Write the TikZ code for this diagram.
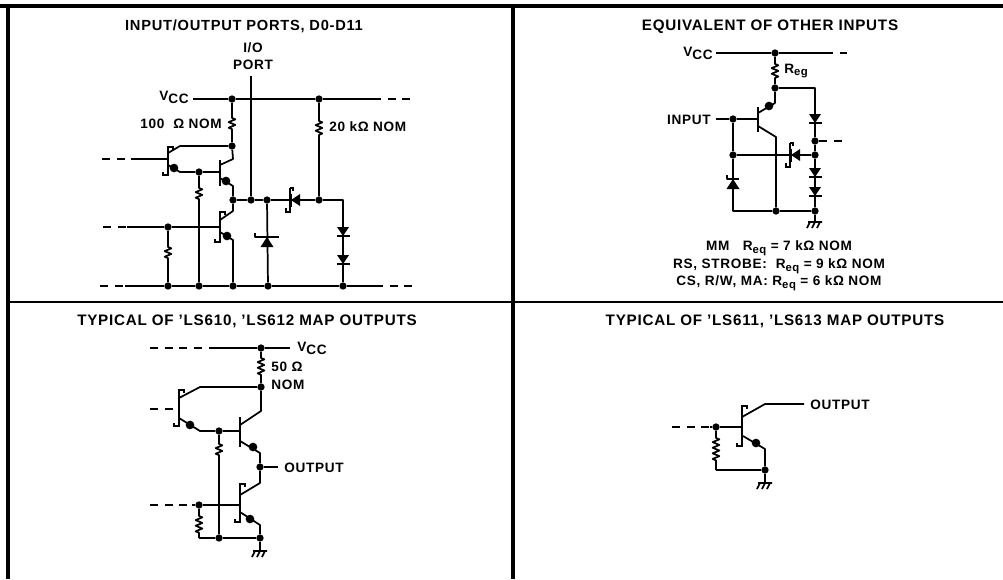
\documentclass[tikz,border=0pt]{standalone}
\usepackage{fontspec}
\setmainfont[LetterSpace=5]{Liberation Sans}
\usetikzlibrary{decorations.pathmorphing}
\newcommand{\subt}[1]{\raisebox{-2.2pt}{#1}}
\newcommand{\subr}[1]{\raisebox{-2.2pt}{\fontsize{8.5}{9}\selectfont #1}}
\tikzset{
wire/.style={line width=1.3pt,line join=round},
frame/.style={line width=2.7pt},
dashwire/.style={wire,dash pattern=on 6pt off 5pt},
jn/.style={circle,fill=black,inner sep=0pt,minimum size=5.5pt},
tip/.style={circle,fill=black,inner sep=0pt,minimum size=6.5pt},
txt/.style={inner sep=0pt,font=\bfseries\fontsize{10.2}{11}\selectfont},
head/.style={inner sep=0pt,font=\bfseries\fontsize{11}{12}\selectfont},
headw/.style={inner sep=0pt,font=\bfseries\fontsize{11.4}{12}\selectfont},
res/.style 2 args={wire,decorate,decoration={zigzag,segment length=4.2pt,amplitude=2.5pt,pre length=#1*0.75pt,post length=#2*0.75pt}},
pics/dio/.style={code={\fill (-6,-5) -- (6,-5) -- (0,4) -- cycle; \draw[wire] (-6.5,4) -- (6.5,4);}},
pics/zen/.style={code={\fill (-6.5,6) -- (6.5,6) -- (0,-4) -- cycle; \draw[wire] (-#1,-8) -- (-#1,-4) -- (#1,-4);}},
pics/bar/.style={code={\draw[line width=1.5pt] (0,-#1) -- (0,#1);}},
pics/npn/.style={code={\draw[line width=1.5pt] (0,-#1) -- (0,#1) -- (0,#1+3) -- (-5,#1+3) -- (-5,#1) (0,-#1) -- (0,-#1-1) -- (5,-#1-1) -- (5,-#1+2);}},
pics/gnd/.style={code={\draw[wire] (-7,0) -- (7,0) (-5,0) -- (-8,6) (0,0) -- (-3,6) (5,0) -- (2,6);}},
pics/sch/.style={code={\draw[line width=1.5pt] (0,-12) -- (3,-12) -- (3,-9) (0,-12) -- (0,12) -- (-4,12) -- (-4,8);}}
}
\begin{document}
\begin{tikzpicture}[x=0.75pt,y=-0.75pt]
\useasboundingbox (0,0) rectangle (1003,579);
\coordinate (tl) at (8,6); \coordinate (tm) at (513,6); \coordinate (tr) at (1003,6);
\coordinate (ml) at (8,302); \coordinate (mr) at (1003,302);
\coordinate (bl) at (8,579); \coordinate (bm) at (513,579);
\draw[frame] (0,6) -- (tr); \draw[frame] (tl) -- (bl); \draw[line width=3.2pt] (tm) -- (bm); \draw[line width=2pt] (ml) -- (mr);
\node[head] (title1) at (244,26) {INPUT/OUTPUT PORTS, D0-D11};
\node[headw] (title2) at (770,27) {EQUIVALENT OF OTHER INPUTS};
\node[headw] (title3) at (247,321) {TYPICAL OF ’LS610, ’LS612 MAP OUTPUTS};
\node[headw] (title4) at (775,321) {TYPICAL OF ’LS611, ’LS613 MAP OUTPUTS};

\node[txt] (ioa) at (253,48) {I/O};
\node[txt] (iob) at (253,65) {PORT};
\node[txt,anchor=east] (vcca) at (189,97) {V\subt{CC}};
\node[txt,anchor=east] (rla) at (222,124) {100 ~Ω NOM};
\node[txt,anchor=west] (rlb) at (329,127) {20 kΩ NOM};
\node[jn] (a1) at (232,99) {}; \node[jn] (a2) at (319,99) {};
\node[jn] (a3) at (232,146) {};
\node[jn] (a4) at (199,172) {};
\node[jn] (a5) at (233,200) {}; \node[jn] (a6) at (251,200) {}; \node[jn] (a7) at (267,200) {}; \node[jn] (a8) at (319,200) {};
\node[jn] (a9) at (168,227) {};
\node[jn] (a10) at (168,286) {}; \node[jn] (a11) at (199,286) {}; \node[jn] (a12) at (233,286) {}; \node[jn] (a13) at (268,286) {}; \node[jn] (a14) at (343,286) {};
\coordinate (b1) at (193,99); \coordinate (b2) at (373,99); \coordinate (b3) at (415,99);
\coordinate (b4) at (100,286); \coordinate (b5) at (125,286); \coordinate (b6) at (375,286); \coordinate (b7) at (415,286);
\coordinate (c1) at (102,159); \coordinate (c2) at (132,159); \coordinate (c3) at (167,159);
\coordinate (c4) at (103,227); \coordinate (c5) at (127,227); \coordinate (c6) at (220,227);
\coordinate (c7) at (343,200); \coordinate (c8) at (220,172); \coordinate (c9) at (251,76);
\draw[wire] (b1) -- (a1) -- (a2) -- (b2); \draw[dashwire] (b2) -- (b3);
\draw[dashwire] (b4) -- (b5); \draw[wire] (b5) -- (a10) -- (a11) -- (a12) -- (a13) -- (a14) -- (b6); \draw[dashwire] (b6) -- (b7);
\draw[dashwire] (c1) -- (c2); \draw[wire] (c2) -- (c3); \draw[dashwire] (c4) -- (c5); \draw[wire] (c5) -- (a9) -- (c6);
\draw[wire] (c9) -- (a6); \draw[wire] (a5) -- (a6) -- (a7) -- (a8) -- (c7) -- (a14); \draw[wire] (a4) -- (c8);
\draw[wire] (a7) -- (a13);
\draw[res={15}{12}] (a1) -- (a3); \draw[res={18}{60}] (a2) -- (a8);
\draw[res={12}{82}] (a4) -- (a11); \draw[res={16}{22}] (a9) -- (a10);
\draw[wire] (168,153) -- (180,146) -- (a3);
\draw[wire] (168,165) -- (180,172) -- (a4);
\pic at (168,159.5) {npn=12};
\node[tip] (e1) at (174,168) {};
\draw[wire] (220,165) -- (233,159) -- (a3);
\draw[wire] (220,178) -- (233,186) -- (a5);
\pic at (220,172.5) {bar=13};
\node[tip] (e2) at (226,181) {};
\draw[wire] (220,220) -- (233,211) -- (a5);
\draw[wire] (220,232) -- (233,240) -- (a12);
\pic at (220,226) {npn=13};
\node[tip] (e3) at (227,236) {};
\pic at (267,241) {zen=12};
\pic[rotate=-90] at (295,200) {dio};
\pic at (290,200) {sch};
\pic at (343,232) {dio};
\pic at (343,260) {dio};

\node[txt,anchor=east] (vccb) at (713,53) {V\subt{CC}};
\node[txt,anchor=west] (lreg) at (784,71) {R\subr{eg}};
\node[txt,anchor=east] (lin) at (711,120) {INPUT};
\node[txt] (lmm) at (779,248) {MM ~~R\subr{eq} = 7 kΩ NOM};
\node[txt] (lrs) at (779,266) {RS, STROBE: ~R\subr{eq} = 9 kΩ NOM};
\node[txt] (lcs) at (779,283) {CS, R/W, MA: R\subr{eq} = 6 kΩ NOM};
\node[jn] (d1) at (775,53) {}; \node[jn] (d2) at (775,88) {};
\node[jn] (d3) at (733,119) {}; \node[jn] (d4) at (733,155) {};
\node[jn] (d5) at (815,141) {}; \node[jn] (d6) at (815,155) {};
\node[jn] (d7) at (776,211) {}; \node[jn] (d8) at (815,211) {};
\coordinate (f1) at (716,53); \coordinate (f2) at (825,53); \coordinate (f3) at (847,53);
\coordinate (f4) at (815,88); \coordinate (f5) at (716,119); \coordinate (f6) at (758,119);
\coordinate (f7) at (733,211); \coordinate (f8) at (848,141); \coordinate (f9) at (815,222);
\draw[wire] (f1) -- (d1) -- (f2); \draw[dashwire] (f2) -- (f3);
\draw[res={7}{6}] (d1) -- (d2);
\draw[wire] (d2) -- (f4) -- (d5) -- (d6) -- (d8) -- (f9);
\draw[wire] (f5) -- (d3) -- (f6);
\draw[wire] (d3) -- (d4) -- (f7) -- (d7) -- (d8);
\draw[wire] (d4) -- (d6);
\draw[dashwire] (d5) -- (f8);
\draw[wire] (758,113) -- (775,103) -- (d2);
\draw[wire] (758,126) -- (776,137) -- (d7);
\pic at (758,119.5) {bar=12.5};
\node[tip] (e4) at (769,106) {};
\pic at (815,119) {dio};
\pic at (815,173) {dio};
\pic at (815,192) {dio};
\pic at (733,183) {zen=6};
\pic[rotate=-90] at (795,155) {dio};
\pic at (790,155) {sch};
\pic at (815,222) {gnd};

\node[txt,anchor=west] (vccc) at (297,348) {V\subt{CC}};
\node[txt,anchor=west] (lr50) at (271,367) {50 Ω};
\node[txt,anchor=west] (lnom) at (271,385) {NOM};
\node[txt,anchor=west] (out3) at (284,468) {OUTPUT};
\node[jn] (g1) at (261,348) {}; \node[jn] (g2) at (261,387) {};
\node[jn] (g3) at (219,431) {}; \node[jn] (g4) at (260,467) {};
\node[jn] (g5) at (199,505) {}; \node[jn] (g6) at (219,538) {}; \node[jn] (g7) at (260,538) {};
\coordinate (h1) at (150,348); \coordinate (h2) at (210,348); \coordinate (h3) at (290,348);
\coordinate (h4) at (150,409); \coordinate (h5) at (178,409); \coordinate (h6) at (240,431);
\coordinate (h7) at (278,467); \coordinate (h8) at (150,505); \coordinate (h9) at (192,505);
\coordinate (h10) at (239,505); \coordinate (h11) at (199,538); \coordinate (h12) at (260,551);
\draw[dashwire] (h1) -- (h2); \draw[wire] (h2) -- (g1) -- (h3);
\draw[res={6}{6}] (g1) -- (g2);
\draw[dashwire] (h4) -- (h5); \draw[dashwire] (h8) -- (h9);
\draw[wire] (h9) -- (g5) -- (h10);
\draw[wire] (g3) -- (h6); \draw[wire] (g4) -- (h7);
\draw[res={9}{78}] (g3) -- (g6);
\draw[res={7}{3}] (g5) -- (h11) ; \draw[wire] (h11) -- (g6) -- (g7) -- (h12);
\draw[wire] (179,398) -- (200,387) -- (g2);
\draw[wire] (179,418) -- (200,431) -- (g3);
\pic at (179,407) {npn=16};
\node[tip] (e5) at (190,425) {};
\draw[wire] (240,425) -- (261,411) -- (g2);
\draw[wire] (240,441) -- (260,453) -- (g4);
\pic at (240,432) {bar=15};
\node[tip] (e6) at (253,447) {};
\draw[wire] (240,495) -- (260,483) -- (g4);
\draw[wire] (240,512) -- (260,525) -- (g7);
\pic at (240,502) {npn=17};
\node[tip] (e7) at (250,519) {};
\pic at (260,551) {gnd};

\node[txt,anchor=west] (out4) at (810,405) {OUTPUT};
\node[jn] (k1) at (716,427) {}; \node[jn] (k2) at (765,470) {};
\coordinate (m1) at (672,427); \coordinate (m2) at (710,427); \coordinate (m3) at (742,427);
\coordinate (m4) at (804,404); \coordinate (m5) at (716,470); \coordinate (m6) at (765,483);
\draw[dashwire] (m1) -- (m2); \draw[wire] (m2) -- (k1) -- (m3);
\draw[wire] (742,417) -- (765,404) -- (m4);
\draw[wire] (743,436) -- (765,449) -- (k2) -- (m6);
\draw[res={7}{8}] (k1) -- (m5); \draw[wire] (m5) -- (k2);
\pic at (742,425) {npn=18};
\node[tip] (e8) at (756,443) {};
\pic at (765,483) {gnd};
\end{tikzpicture}
\end{document}
